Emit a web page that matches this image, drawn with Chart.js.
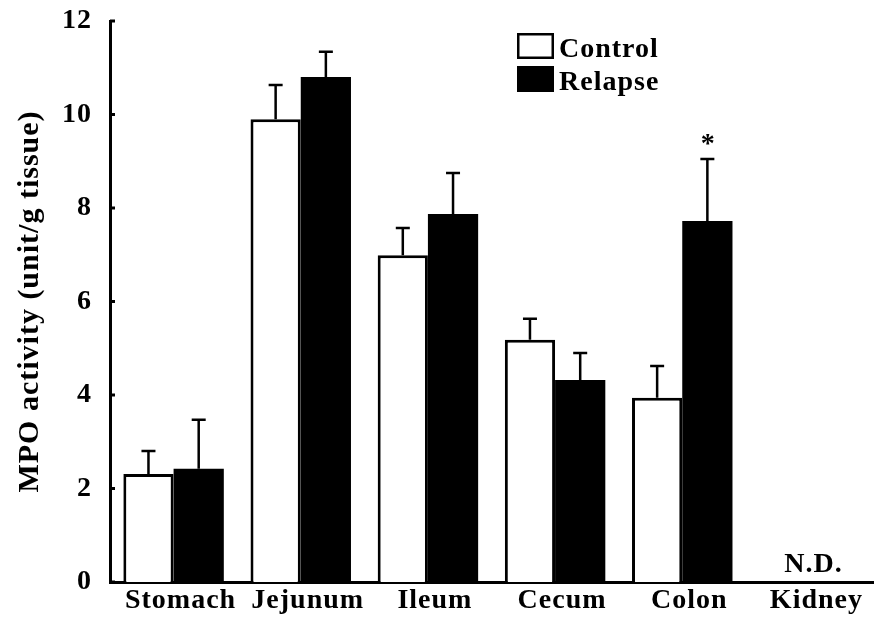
<!DOCTYPE html>
<html>
<head>
<meta charset="utf-8">
<script src="https://cdn.jsdelivr.net/npm/chart.js@4"></script>
<style>
  html, body { margin: 0; padding: 0; background: #fff; }
  #wrap { width: 876px; height: 634px; }
</style>
</head>
<body>
<div id="wrap"><canvas id="c" width="876" height="634"></canvas></div>
<script>
// MPO activity per tissue (unit/g tissue), mean and upper SEM
const tissues = ['Stomach', 'Jejunum', 'Ileum', 'Cecum', 'Colon', 'Kidney'];
const controlMean = [2.31, 9.90, 6.99, 5.18, 3.94, null];
const controlSem  = [0.49, 0.73, 0.58, 0.45, 0.68, null];
const relapseMean = [2.42, 10.80, 7.87, 4.32, 7.72, null];
const relapseSem  = [1.05, 0.54, 0.88, 0.58, 1.33, null];
const relapseMarks = ['', '', '', '', '*', ''];
const notDetected = [false, false, false, false, false, true];
const yTicks = [0, 2, 4, 6, 8, 10, 12];

const FAMILY = "'Liberation Serif', 'Times New Roman', serif";
const font = { family: FAMILY, size: 28, weight: 'bold' };
const titleFont = { family: FAMILY, size: 30, weight: 'bold' };
const LETTER_SPACING = '1px';

// Slightly widened lettering for all canvas text
const spacing = {
  id: 'spacing',
  beforeLayout(chart) { chart.ctx.letterSpacing = LETTER_SPACING; },
  beforeDraw(chart) { chart.ctx.letterSpacing = LETTER_SPACING; }
};

// Short inward tick marks on the value axis
const innerTicks = {
  id: 'innerTicks',
  afterDraw(chart) {
    const { ctx, scales: { y } } = chart;
    ctx.save();
    ctx.strokeStyle = '#000';
    ctx.lineWidth = 3;
    yTicks.forEach(v => {
      const py = y.getPixelForValue(v);
      ctx.beginPath();
      ctx.moveTo(y.right, py);
      ctx.lineTo(y.right + 5, py);
      ctx.stroke();
    });
    ctx.restore();
  }
};

// Upper error bars, significance marks and N.D. labels
const annotations = {
  id: 'annotations',
  afterDatasetsDraw(chart) {
    const { ctx, scales: { x, y } } = chart;
    ctx.save();
    ctx.letterSpacing = LETTER_SPACING;
    ctx.strokeStyle = '#000';
    ctx.fillStyle = '#000';
    ctx.lineWidth = 2.5;
    chart.data.datasets.forEach((ds, di) => {
      const meta = chart.getDatasetMeta(di);
      meta.data.forEach((bar, i) => {
        const v = ds.data[i], e = ds.sem[i];
        if (v == null || e == null) return;
        const y0 = y.getPixelForValue(v);
        const y1 = y.getPixelForValue(v + e);
        ctx.beginPath();
        ctx.moveTo(bar.x, y0);
        ctx.lineTo(bar.x, y1);
        ctx.moveTo(bar.x - 7, y1);
        ctx.lineTo(bar.x + 7, y1);
        ctx.stroke();
        const mark = ds.marks ? ds.marks[i] : '';
        if (mark) {
          ctx.font = `bold 28px ${FAMILY}`;
          ctx.textAlign = 'center';
          ctx.textBaseline = 'alphabetic';
          ctx.fillText(mark, bar.x + 1, y1 - 7);
        }
      });
    });
    notDetected.forEach((nd, i) => {
      if (!nd) return;
      ctx.font = `bold 28px ${FAMILY}`;
      ctx.textAlign = 'center';
      ctx.textBaseline = 'alphabetic';
      ctx.fillText('N.D.', x.getPixelForValue(i) + 4, y.getPixelForValue(0) - 10);
    });
    ctx.restore();
  }
};

// Stacked legend in the upper part of the plot
const boxLegend = {
  id: 'boxLegend',
  afterDraw(chart) {
    const { ctx } = chart;
    const o = chart.options.plugins.boxLegend;
    ctx.save();
    ctx.letterSpacing = LETTER_SPACING;
    chart.data.datasets.forEach((ds, i) => {
      const top = o.y + i * o.step;
      ctx.fillStyle = ds.backgroundColor;
      ctx.fillRect(o.x, top, o.w, o.h);
      ctx.strokeStyle = '#000';
      ctx.lineWidth = 2.5;
      ctx.strokeRect(o.x + 1.25, top + 1.25, o.w - 2.5, o.h - 2.5);
      ctx.fillStyle = '#000';
      ctx.font = `bold 28px ${FAMILY}`;
      ctx.textAlign = 'left';
      ctx.textBaseline = 'alphabetic';
      ctx.fillText(ds.label, o.x + o.w + 5, top + o.h - 2);
    });
    ctx.restore();
  }
};

new Chart(document.getElementById('c'), {
  type: 'bar',
  data: {
    labels: tissues,
    datasets: [
      {
        label: 'Control',
        data: controlMean,
        sem: controlSem,
        backgroundColor: '#ffffff',
        borderColor: '#000000',
        borderWidth: 3,
        borderSkipped: 'start'
      },
      {
        label: 'Relapse',
        data: relapseMean,
        sem: relapseSem,
        marks: relapseMarks,
        backgroundColor: '#000000',
        borderColor: '#000000',
        borderWidth: 0
      }
    ]
  },
  options: {
    responsive: false,
    animation: false,
    devicePixelRatio: 1,
    categoryPercentage: 0.79,
    barPercentage: 1.0,
    layout: { padding: { top: 21, right: 3, left: 0, bottom: 0 } },
    plugins: {
      legend: { display: false },
      tooltip: { enabled: false },
      boxLegend: { x: 517, y: 33, w: 37, h: 26, step: 33 }
    },
    scales: {
      x: {
        type: 'category',
        offset: true,
        grid: { display: false, drawTicks: false, drawOnChartArea: false },
        border: { display: true, width: 3, color: '#000' },
        ticks: { color: '#000', font, padding: 2, labelOffset: 7, maxRotation: 0, autoSkip: false },
        afterFit(s) { s.height = 52; s.paddingLeft = 0; s.paddingRight = 0; }
      },
      y: {
        min: 0,
        max: 12,
        grid: { display: false, drawTicks: false, drawOnChartArea: false },
        border: { display: true, width: 3, color: '#000' },
        ticks: { color: '#000', font, padding: 18, stepSize: 2 },
        afterBuildTicks(s) { s.ticks = yTicks.map(v => ({ value: v })); },
        title: {
          display: true,
          text: 'MPO activity (unit/g tissue)',
          color: '#000',
          font: titleFont,
          padding: { top: 12, bottom: 0 }
        },
        afterFit(s) { s.width = 110; s.paddingTop = 0; s.paddingBottom = 0; }
      }
    }
  },
  plugins: [spacing, annotations, innerTicks, boxLegend]
});
</script>
</body>
</html>
